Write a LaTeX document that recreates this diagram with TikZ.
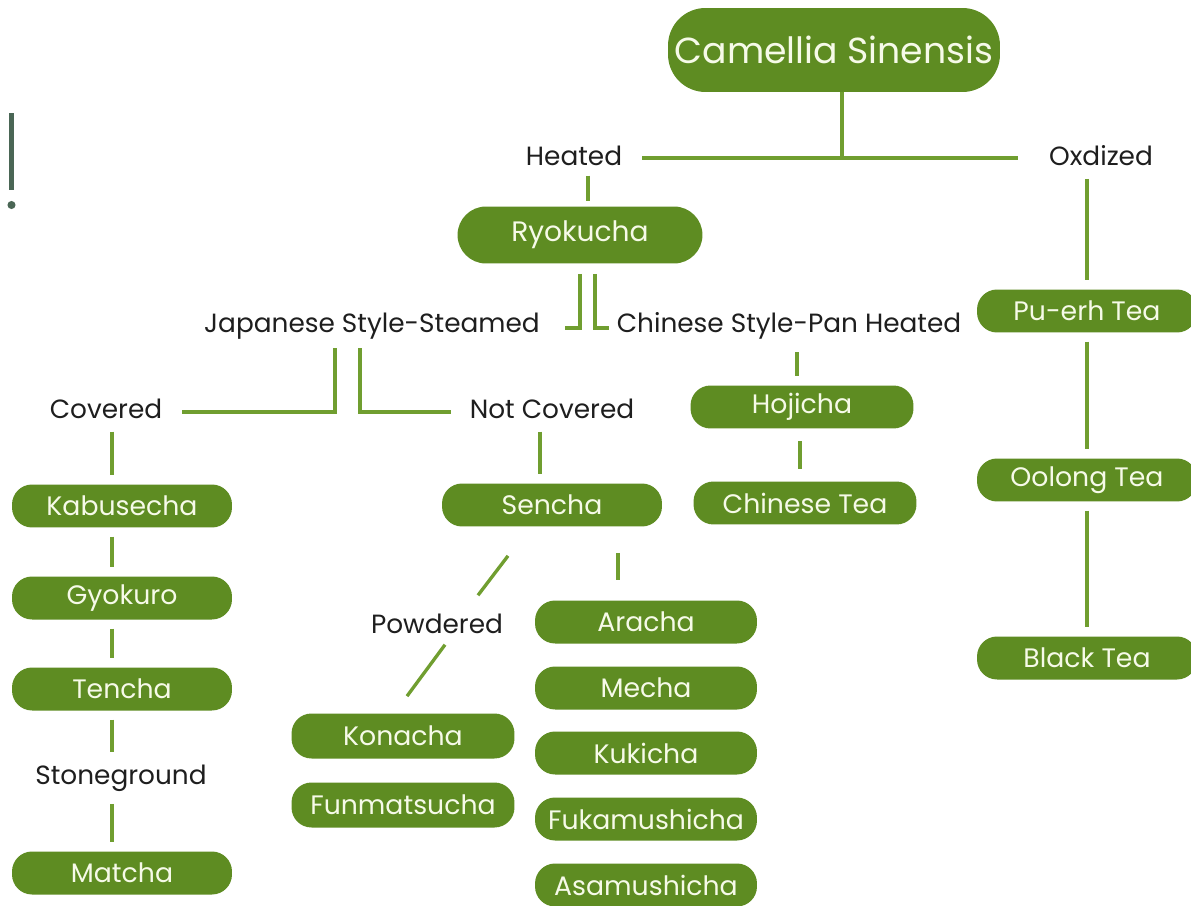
\documentclass[tikz,border=0pt]{standalone}
\usepackage{fontspec}
\setmainfont{Poppins}
\usetikzlibrary{calc}
\definecolor{tea}{RGB}{94,140,34}
\definecolor{twig}{RGB}{112,158,48}
\definecolor{cream}{RGB}{246,250,232}
\definecolor{ink}{RGB}{30,30,30}
\definecolor{slate}{RGB}{74,102,85}
\tikzset{
  leaf/.style={fill=tea,text=cream,rounded corners=#1,minimum width=4.4cm,
    minimum height=0.86cm,font=\fontsize{15.2}{17}\selectfont,inner sep=0pt},
  leaf/.default=0.4cm,
  tag/.style={text=ink,font=\fontsize{15}{17}\selectfont,inner sep=2pt},
  stem/.style={draw=twig,line width=1.9pt},
  gap/.style={shorten <=#1,shorten >=#1},
  gap/.default=5pt,
}
\begin{document}
\begin{tikzpicture}[x=0.02cm,y=-0.02cm]
        \useasboundingbox (0,0) rectangle (1191,906);
        \clip (0,0) rectangle (1191,906);
        \fill[slate] (9,113) rectangle (14,190);
        \fill[slate] (11.5,205) circle (2.3pt);
        % nodes
        \node[leaf=0.75cm,minimum width=6.64cm,minimum height=1.68cm,font=\fontsize{20.6}{24}\selectfont] (cs) at (834,50) {Camellia Sinensis};
        \node[tag] (ht) at (574,156) {Heated};
        \node[tag] (ox) at (1101,156) {Oxdized};
        \node[leaf=0.57cm,minimum width=4.9cm,minimum height=1.14cm,font=\fontsize{16}{18}\selectfont] (ry) at (580,235) {Ryokucha};
        \node[tag] (js) at (372,326) {Japanese Style-Steamed};
        \node[tag] (cp) at (789,326) {Chinese Style-Pan Heated};
        \node[tag] (cv) at (106,409) {Covered};
        \node[tag] (nc) at (552,409) {Not Covered};
        \node[leaf] (kb) at (122,506) {Kabusecha};
        \node[leaf] (gy) at (122,598) {Gyokuro};
        \node[leaf] (tc) at (122,689) {Tencha};
        \node[tag] (sg) at (121,778) {Stoneground};
        \node[leaf] (mt) at (122,873) {Matcha};
        \node[leaf] (se) at (552,505) {Sencha};
        \node[tag] (pw) at (437,624) {Powdered};
        \node[leaf,minimum width=4.46cm,minimum height=0.9cm] (kn) at (403,736) {Konacha};
        \node[leaf,minimum width=4.46cm,minimum height=0.9cm] (fm) at (403,805) {Funmatsucha};
        \node[leaf,minimum width=4.44cm] (ar) at (646,622) {Aracha};
        \node[leaf,minimum width=4.44cm] (me) at (646,688) {Mecha};
        \node[leaf,minimum width=4.44cm] (ku) at (646,753) {Kukicha};
        \node[leaf,minimum width=4.44cm] (fk) at (646,819) {Fukamushicha};
        \node[leaf,minimum width=4.44cm] (as) at (646,885) {Asamushicha};
        \node[leaf,minimum width=4.46cm] (hj) at (802,407) {Hojicha};
        \node[leaf,minimum width=4.46cm] (ct) at (805,503) {Chinese Tea};
        \node[leaf] (pu) at (1087,311) {Pu-erh Tea};
        \node[leaf] (oo) at (1087,480) {Oolong Tea};
        \node[leaf] (bt) at (1087,658) {Black Tea};
        % links
        \draw[stem] ($(cs.south)+(8,0)$) |- ($(ht.east)+(16,2)$);
        \draw[stem] ($(cs.south)+(8,0)$) |- ($(ox.west)+(-27,2)$);
        \draw[stem] ($(ht.south)+(14,6)$) -- ($(ry.north)+(8,-5)$);
        \draw[stem] ($(ry.south)+(0,10)$) |- ($(js.east)+(21,2)$);
        \draw[stem] ($(ry.south)+(15,10)$) |- ($(cp.west)+(-4,2)$);
        \draw[stem] ($(js.south)+(-37,5)$) |- ($(cv.east)+(16,3)$);
        \draw[stem] ($(js.south)+(-12,5)$) |- ($(nc.west)+(-15,3)$);
        \foreach \a/\b in {cv/kb,kb/gy,gy/tc,sg/mt}
          \draw[stem,gap] ([xshift=-0.2cm]\b.north |- \a.south) -- ([xshift=-0.2cm]\b.north);
        \draw[stem,gap] ([xshift=-0.2cm]tc.south) -- ([xshift=-0.2cm]tc.south |- sg.north);
        \draw[stem,gap] ([xshift=-0.24cm]se.north |- nc.south) -- ([xshift=-0.24cm]se.north);
        \draw[stem] ($(se.south)+(-44,29)$) -- ($(pw.north)+(41,-15)$);
        \draw[stem] ($(pw.south)+(8,7)$) -- ($(kn.north)+(4,-17)$);
        \draw[stem] ($(se.south)+(66,26)$) -- ($(ar.north)+(-28,-20)$);
        \draw[stem,gap] ([xshift=-0.1cm]hj.north |- cp.south) -- ([xshift=-0.1cm]hj.north);
        \draw[stem,gap=7pt] ([xshift=-0.1cm]ct.north |- hj.south) -- ([xshift=-0.1cm]ct.north);
        \foreach \a/\b in {ox/pu,pu/oo,oo/bt}
          \draw[stem,gap] (\b.north |- \a.south) -- (\b.north);
      \end{tikzpicture}
\end{document}
